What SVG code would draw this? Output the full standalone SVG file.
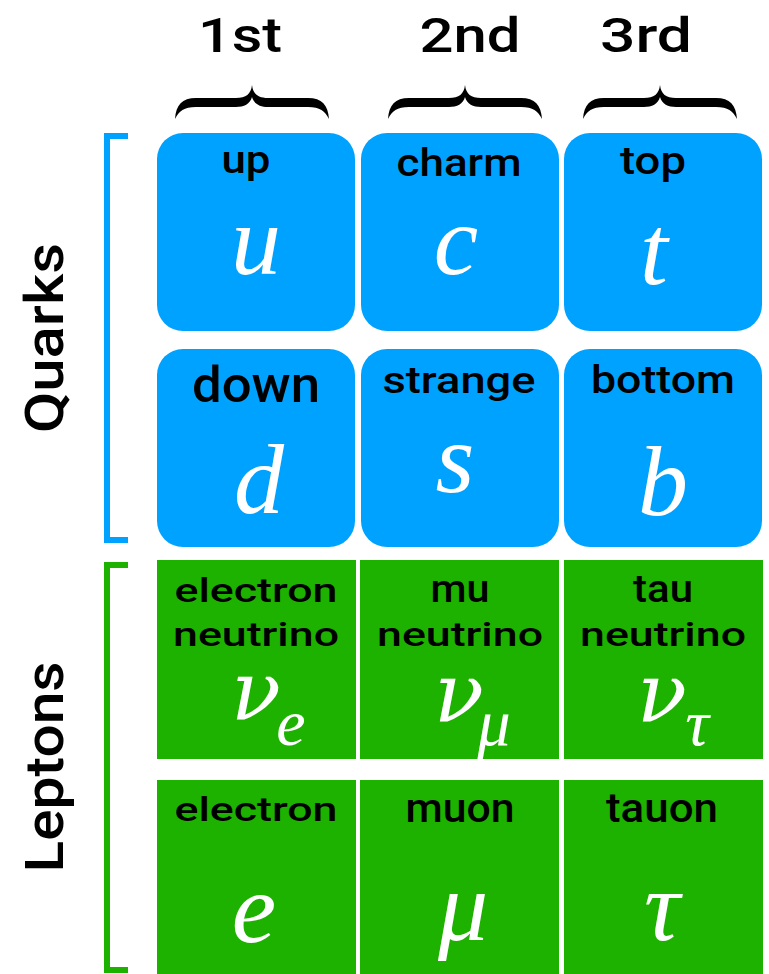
<svg xmlns="http://www.w3.org/2000/svg" width="769" height="974" viewBox="0 0 769 974">
  <style>
    .quark { fill: #00A2FF; }
    .lepton { fill: #1DB100; }
    .name { font-family: Roboto, "Liberation Sans", sans-serif; font-weight: 500; fill: #000; text-anchor: middle; }
    .sym { font-family: "Liberation Serif", "Times New Roman", serif; font-style: italic; fill: #fff; text-anchor: middle; font-size: 100px; }
    .nu { font-family: "DejaVu Serif", "Liberation Serif", serif; font-size: 82px; }
    .sub { font-size: 66px; }
    .head { font-family: Roboto, "Liberation Sans", sans-serif; font-weight: 500; fill: #000; text-anchor: middle; font-size: 48px; }
    .group-label { font-family: Roboto, "Liberation Sans", sans-serif; font-weight: 500; fill: #000; text-anchor: middle; font-size: 54px; }
    .brace { fill: #000; }
  </style>
  <defs>
    <!-- overbrace centred on x=0, spanning -77..77 -->
    <path id="brace" d="M-77,119 C-76,105 -70,98 -56,98 L-16,98 C-6,98 -1,94 0,85 C1,94 6,98 16,98 L56,98 C70,98 76,105 77,119 C73,111 68,107 56,107 L16,107 C8,107 2,104 0,97 C-2,104 -8,107 -16,107 L-56,107 C-68,107 -73,111 -77,119 Z"/>
  </defs>
  <rect width="769" height="974" fill="#fff"/>

  <!-- generation headings -->
  <g id="generations">
    <text class="head" x="240" y="52" textLength="84" lengthAdjust="spacingAndGlyphs">1st</text>
    <text class="head" x="470" y="52" textLength="101" lengthAdjust="spacingAndGlyphs">2nd</text>
    <text class="head" x="646" y="52" textLength="92" lengthAdjust="spacingAndGlyphs">3rd</text>
    <use href="#brace" class="brace" x="252" y="0"/>
    <use href="#brace" class="brace" x="465" y="0"/>
    <use href="#brace" class="brace" x="660" y="0"/>
  </g>

  <!-- family brackets -->
  <g id="brackets" fill="none" stroke-width="6">
    <path d="M128,136 H107 V540 H128" stroke="#00A2FF"/>
    <path d="M128,565 H107 V970 H128" stroke="#1DB100"/>
  </g>
  <text class="group-label" transform="translate(63,338) rotate(-90)" textLength="190" lengthAdjust="spacingAndGlyphs">Quarks</text>
  <text class="group-label" transform="translate(63,767) rotate(-90)" textLength="211" lengthAdjust="spacingAndGlyphs">Leptons</text>

  <!-- quarks -->
  <g id="up">
    <rect class="quark" x="157" y="133" width="198" height="198" rx="26"/>
    <text class="name" x="246" y="173" font-size="38" textLength="49" lengthAdjust="spacingAndGlyphs">up</text>
    <text class="sym" x="256" y="274">u</text>
  </g>
  <g id="charm">
    <rect class="quark" x="361" y="133" width="198" height="198" rx="26"/>
    <text class="name" x="459" y="176" font-size="39" textLength="125" lengthAdjust="spacingAndGlyphs">charm</text>
    <text class="sym" x="456" y="274">c</text>
  </g>
  <g id="top">
    <rect class="quark" x="564" y="133" width="198" height="198" rx="26"/>
    <text class="name" x="653" y="174" font-size="39" textLength="66" lengthAdjust="spacingAndGlyphs">top</text>
    <text class="sym" x="654" y="284">t</text>
  </g>
  <g id="down">
    <rect class="quark" x="157" y="349" width="198" height="198" rx="26"/>
    <text class="name" x="256" y="402" font-size="50" textLength="128" lengthAdjust="spacingAndGlyphs">down</text>
    <text class="sym" x="259" y="513">d</text>
  </g>
  <g id="strange">
    <rect class="quark" x="361" y="349" width="198" height="198" rx="26"/>
    <text class="name" x="459" y="393" font-size="36" textLength="153" lengthAdjust="spacingAndGlyphs">strange</text>
    <text class="sym" x="455" y="492">s</text>
  </g>
  <g id="bottom">
    <rect class="quark" x="564" y="349" width="198" height="198" rx="26"/>
    <text class="name" x="663" y="393" font-size="38" textLength="144" lengthAdjust="spacingAndGlyphs">bottom</text>
    <text class="sym" x="663" y="515">b</text>
  </g>

  <!-- leptons -->
  <g id="electron-neutrino">
    <rect class="lepton" x="157" y="560" width="199" height="199"/>
    <text class="name" x="256" y="602" font-size="34" textLength="163" lengthAdjust="spacingAndGlyphs">electron</text>
    <text class="name" x="256" y="646" font-size="34" textLength="166" lengthAdjust="spacingAndGlyphs">neutrino</text>
    <text class="sym nu" x="256" y="720">ν</text>
    <text class="sym sub" x="291" y="745">e</text>
  </g>
  <g id="mu-neutrino">
    <rect class="lepton" x="360" y="560" width="199" height="199"/>
    <text class="name" x="460" y="602" font-size="38" textLength="59" lengthAdjust="spacingAndGlyphs">mu</text>
    <text class="name" x="460" y="646" font-size="34" textLength="166" lengthAdjust="spacingAndGlyphs">neutrino</text>
    <text class="sym nu" x="459" y="722">ν</text>
    <text class="sym sub" x="494" y="745">μ</text>
  </g>
  <g id="tau-neutrino">
    <rect class="lepton" x="564" y="560" width="199" height="199"/>
    <text class="name" x="663" y="602" font-size="38" textLength="60" lengthAdjust="spacingAndGlyphs">tau</text>
    <text class="name" x="663" y="646" font-size="34" textLength="166" lengthAdjust="spacingAndGlyphs">neutrino</text>
    <text class="sym nu" x="662" y="722">ν</text>
    <text class="sym sub" x="697" y="745">τ</text>
  </g>
  <g id="electron">
    <rect class="lepton" x="157" y="780" width="199" height="200"/>
    <text class="name" x="256" y="821" font-size="34" textLength="163" lengthAdjust="spacingAndGlyphs">electron</text>
    <text class="sym" x="254" y="942">e</text>
  </g>
  <g id="muon">
    <rect class="lepton" x="360" y="780" width="199" height="200"/>
    <text class="name" x="460" y="822" font-size="40" textLength="109" lengthAdjust="spacingAndGlyphs">muon</text>
    <text class="sym" x="463" y="940">μ</text>
  </g>
  <g id="tauon">
    <rect class="lepton" x="564" y="780" width="199" height="200"/>
    <text class="name" x="662" y="822" font-size="40" textLength="112" lengthAdjust="spacingAndGlyphs">tauon</text>
    <text class="sym" x="662" y="940">τ</text>
  </g>
</svg>
